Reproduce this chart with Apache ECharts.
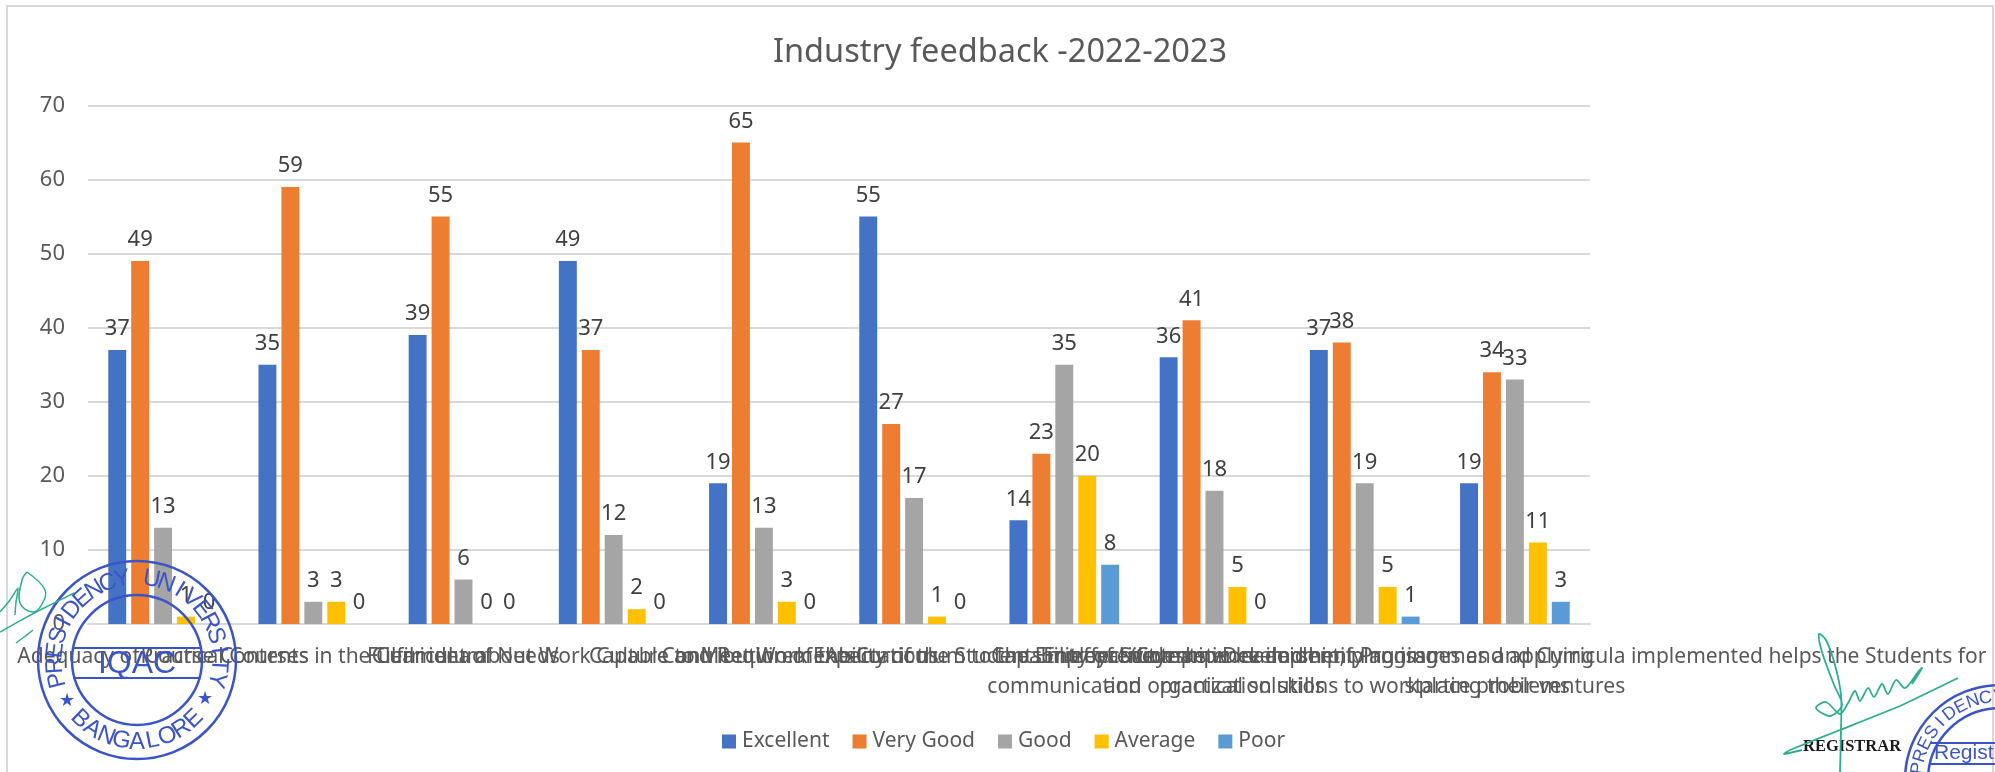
<!DOCTYPE html>
<html>
<head>
<meta charset="utf-8">
<style>html,body{margin:0;padding:0;background:#fff}#c{width:1995px;height:772px}</style>
<script src="https://cdn.jsdelivr.net/npm/echarts@6/dist/echarts.min.js"></script>
</head>
<body>
<div id="c"></div>
<script>
const categories = [
  "Adequacy of Course Contents",
  "Practical Courses in the Curriculum",
  "Fulfilment of Needs",
  "Clear idea about Work Culture and Requirements",
  "Capable to Meet Work Expectations",
  "Contribution of the Curriculum to the Employability",
  "Ability of the Students in effective teamwork and\ncommunication",
  "Capability of Students in leadership, planning\nand organization skills",
  "Competence in identifying issues and applying\npractical solutions to workplace problems",
  "Entrepreneurship Development Programmes and Curricula implemented helps the Students for\nstarting their ventures"
];
const excellent = [37, 35, 39, 49, 19, 55, 14, 36, 37, 19];
const veryGood  = [49, 59, 55, 37, 65, 27, 23, 41, 38, 34];
const good      = [13, 3, 6, 12, 13, 17, 35, 18, 19, 33];
const average   = [1, 3, 0, 2, 3, 1, 20, 5, 5, 11];
const poor      = [0, 0, 0, 0, 0, 0, 8, 0, 1, 3];
const seriesNames = ["Excellent", "Very Good", "Good", "Average", "Poor"];
const seriesValues = [excellent, veryGood, good, average, poor];
const seriesColors = ["#4472C4", "#ED7D31", "#A5A5A5", "#FFC000", "#5B9BD5"];

const FONT = "'Noto Sans'";
const BLUE = "#3b55c9", GREEN = "#2fae8f";

function ring(cx, cy, r, w) {
  return {type:'circle', z:100, shape:{cx, cy, r}, style:{fill:'none', stroke:BLUE, lineWidth:w||2}};
}
function hline(x1, x2, y) {
  return {type:'line', z:100, shape:{x1, y1:y, x2, y2:y}, style:{stroke:BLUE, lineWidth:2}};
}
function arcText(cx, cy, r, text, startDeg, stepDeg, size, bottom) {
  return text.split('').map((ch, i) => {
    const a = (startDeg + i * stepDeg) * Math.PI / 180;
    const x = cx + r * Math.sin(a);
    const y = bottom ? cy + r * Math.cos(a) : cy - r * Math.cos(a);
    return {type:'text', z:100, x, y, rotation: bottom ? a : -a,
      style:{text:ch, fill:BLUE, font:size+"px 'Liberation Sans'", textAlign:'center', textVerticalAlign:'middle'}};
  });
}
function label(x, y, text, font, fill) {
  return {type:'text', z:100, x, y, style:{text, fill:fill||BLUE, font, textAlign:'left', textVerticalAlign:'middle'}};
}
function scrawl(points, w, smooth) {
  return {type:'polyline', z:101, shape:{points, smooth: smooth === undefined ? 0.4 : smooth}, style:{fill:'none', stroke:GREEN, lineWidth:w||1.5}};
}

const decorations = [
  {type:'rect', z:0, shape:{x:7, y:6, width:1986, height:800}, style:{fill:'none', stroke:'#d9d9d9', lineWidth:2}},
  // left seal
  ring(137, 660, 99, 2.5), ring(137, 660, 65, 2.5),
  hline(73, 200, 648), hline(73, 200, 678),
  {type:'text', z:100, x:137, y:664, style:{text:'IQAC', fill:BLUE, font:"32px 'Liberation Sans'", textAlign:'center', textVerticalAlign:'middle'}},
  {type:'text', z:100, x:67, y:701, style:{text:'★', fill:BLUE, font:"18px 'DejaVu Sans'", textAlign:'center', textVerticalAlign:'middle'}},
  {type:'text', z:100, x:205, y:699, style:{text:'★', fill:BLUE, font:"18px 'DejaVu Sans'", textAlign:'center', textVerticalAlign:'middle'}},
  ...arcText(137, 660, 82, 'PRESIDENCY UNIVERSITY', -104, 10.4, 24, false),
  ...arcText(137, 660, 82, 'BANGALORE', -44, 11, 24, true),
  // left signature
  scrawl([[0,632],[36,612],[74,593]], 1.5, 0.1),
  scrawl([[16,643],[24,637],[33,630]], 1.5, 0.1),
  scrawl([[27,572],[45,590],[42,604],[33,612],[20,603],[22,580],[27,572]]),
  scrawl([[0,612],[10,600],[18,588],[16,602],[15,615]], 1.5, 0.2),
  // right signature
  scrawl([[1840,772],[1841,730],[1841,695],[1835,665],[1826,640],[1819,634],[1822,652],[1834,685],[1842,705],[1830,716],[1816,708],[1826,702],[1840,714],[1848,703],[1855,691],[1860,701],[1868,688],[1874,697],[1882,684],[1888,694],[1896,680],[1905,688],[1918,672],[1922,668],[1912,684]], 1.8, 0.3),
  scrawl([[1958,678],[1900,706],[1840,730],[1790,750],[1784,754],[1802,750]], 1.8, 0.1),
  {type:'text', z:100, x:1803, y:747, style:{text:'REGISTRAR', fill:'#1a1a1a', font:"bold 16.5px 'Liberation Serif'", textAlign:'left', textVerticalAlign:'middle'}},
  // right stamp
  ring(2000, 780, 95, 2.5), ring(2000, 780, 72, 2.5),
  hline(1930, 1995, 743), hline(1930, 1995, 764),
  label(1934, 753, 'Registrar', "21px 'Liberation Sans'"),
  ...arcText(2000, 780, 83, 'PRESIDENCY UNIVERSITY', -82, 9, 18, false)
];

const chart = echarts.init(document.getElementById('c'), null, {renderer:'canvas'});
chart.setOption({
  animation: false,
  backgroundColor: '#fff',
  textStyle: {fontFamily: FONT},
  title: {
    text: 'Industry feedback -2022-2023',
    left: 995, top: 31, textAlign: 'center',
    textStyle: {fontFamily: FONT, fontSize: 32.5, fontWeight: 'normal', color: '#595959'}
  },
  legend: {
    left: 717, top: 726, itemWidth: 14, itemHeight: 14, itemGap: 23,
    icon: 'rect',
    textStyle: {fontFamily: FONT, fontSize: 21, color: '#595959', padding: [0, 0, 0, 1]},
    data: seriesNames
  },
  grid: {left: 88, right: 405, top: 105.5, bottom: 148, containLabel: false},
  xAxis: {
    type: 'category',
    data: categories,
    axisTick: {show: false},
    axisLine: {lineStyle: {color: '#d9d9d9', width: 2}},
    axisLabel: {interval: 0, hideOverlap: false, margin: 18, fontFamily: FONT, fontSize: 21, lineHeight: 30, color: '#595959'}
  },
  yAxis: {
    type: 'value', min: 0, max: 70, interval: 10,
    axisLine: {show: false}, axisTick: {show: false},
    splitLine: {lineStyle: {color: '#d9d9d9', width: 2}},
    axisLabel: {margin: 23, fontFamily: FONT, fontSize: 22, color: '#595959'}
  },
  series: seriesNames.map((name, i) => ({
    name, type: 'bar', data: seriesValues[i],
    barGap: '28%', barCategoryGap: '27%',
    itemStyle: {color: seriesColors[i]},
    label: {show: true, position: 'top', distance: 10, fontFamily: FONT, fontSize: 22, color: '#404040'}
  })),
  graphic: {elements: decorations}
});
</script>
</body>
</html>
